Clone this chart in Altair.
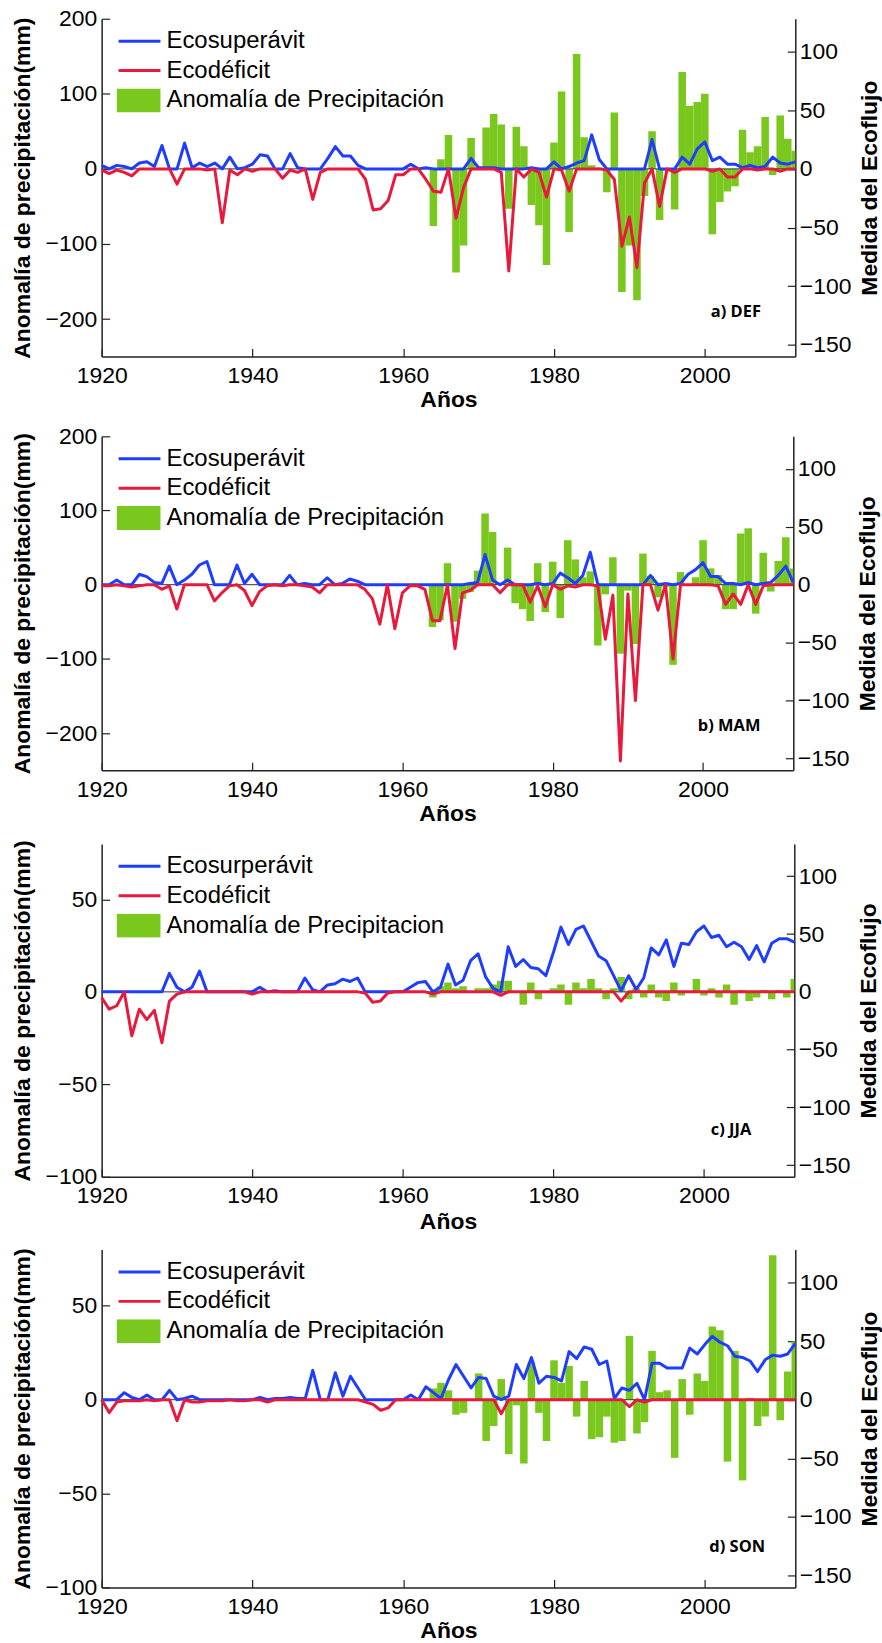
import altair as alt
import pandas as pd

YEARS = list(range(1920, 2013))
BAR_YEARS = list(range(1964, 2013))

X_DOMAIN = [1920, 2012]
X_TICKS = [1920, 1940, 1960, 1980, 2000]
RIGHT_DOMAIN = [-160, 128]
RIGHT_TICKS = [-150, -100, -50, 0, 50, 100]
LEFT_DOMAIN_AB = [-250, 200]
LEFT_TICKS_AB = [-200, -100, 0, 100, 200]
LEFT_DOMAIN_CD = [-100, 80]
LEFT_TICKS_CD = [-100, -50, 0, 50]

LABELS_STD = ["Ecosuperávit", "Ecodéficit", "Anomalía de Precipitación"]
LABELS_C = ["Ecosurperávit", "Ecodéficit", "Anomalía de Precipitacion"]
TAGS = ["a) DEF", "b) MAM", "c) JJA", "d) SON"]
TAG_X = [2000.8, 1999.3, 2000.9, 2000.6]
TAG_Y = [-191, -190, -74.6, -78.7]

# ---------------- a) DEF ----------------
A_SUP = [3, 0, 3, 2, 0, 5, 6, 2, 20, 0,
         0, 22, 1, 5, 2, 5, 0, 10, 0, 1,
         4, 12, 11, 0, 0, 13, 1, 0, 0, 0,
         9, 19, 11, 11, 3, 0, 0, 0, 0, 0,
         0, 4, 0, 1, 0, 0,
         0, 0, 0, 9, 1, 1, 1, 0, 0, 0,
         0, 1, 0, 0, 6, 0, 2, 5, 7, 29,
         8, 0, 0, 0, 0, 0, 0, 25, 0, 0,
         0, 10, 4, 17, 23, 7, 10, 4, 4, 1,
         3, 1, 2, 10, 5, 4, 6]
A_DEF = [-1, -4, -1, -3, -6, 0, 0, 0, 0, 0,
         -13, 0, 0, 0, -1, 0, -46, -1, -5, 0,
         -2, 0, 0, 0, -8, -1, -3, 0, -26, -3,
         0, 0, 0, 0, 0, -9, -35, -34, -27, -5,
         -5, 0, 0, -9, -19, -20,
         0, -42, -16, 0, 0, 0, 0, -3, -87, 0,
         -7, 0, -3, -24, 0, -1, -19, 0, 0, 0,
         0, -1, -9, -66, -41, -84, -12, 0, -32, 0,
         -3, 0, 0, 0, 0, -2, 0, -7, -7, 0,
         0, -1, 0, 0, -2, 0, 0]
A_BAR = [-76, 13, 45, -138, -102, 41, 3, 55, 73, 59,
         -53, 56, 30, -48, -75, -128, 35, 103, -84, 153,
         42, 5, 2, -31, 75, -164, -102, -175, -36, 50,
         -68, -2, -54, 129, 84, 89, 100, -87, -44, -30,
         -23, 52, 22, 30, 69, -8, 71, 40, 24]

# ---------------- b) MAM ----------------
B_SUP = [0, 0, 4, 0, 0, 9, 7, 2, 1, 16,
         0, 4, 9, 17, 20, 0, 0, 0, 17, 1,
         9, 0, 0, 0, 0, 8, 0, 1, 0, 0,
         6, 0, 1, 5, 3, 0, 0, 0, 0, 0,
         0, 0, 0, 0, 0, 0,
         0, 0, 0, 1, 2, 26, 4, 0, 4, 0,
         0, 0, 1, 0, 1, 10, 6, 1, 8, 28,
         0, 0, 0, 0, 0, 0, 0, 8, 0, 1,
         0, 1, 9, 13, 19, 7, 7, 1, 1, 0,
         2, 0, 1, 2, 8, 16, 2]
B_DEF = [-1, -1, 0, -1, -2, -1, 0, 0, -4, -1,
         -21, 0, 0, 0, 0, -14, -7, -1, 0, -5,
         -18, -6, -1, 0, -1, 0, 0, -1, -2, -7,
         0, 0, 0, 0, 0, -4, -12, -34, 0, -38,
         -7, -1, -1, -4, -31, -31,
         0, -55, -7, -5, 0, 0, 0, -7, 0, 0,
         0, -15, -1, -19, 0, -4, -1, -2, 0, 0,
         -1, -47, -9, -152, -8, -100, 0, 0, -22, 0,
         -64, 0, 0, 0, 0, 0, -1, -17, -8, -17,
         0, -17, -1, 0, 0, 0, 0]
B_BAR = [-57, -48, 29, -50, -19, -10, 19, 96, 71, 0,
         50, -25, -33, -49, 29, -37, 31, -45, 60, 34,
         10, 18, -82, -13, 37, -93, -8, -80, 42, 12,
         -17, -3, -108, 17, 0, 10, 60, 22, 13, -33,
         -33, 69, 76, -39, 43, -9, 32, 64, 22]

# ---------------- c) JJA ----------------
C_SUP = [0, 0, 0, 0, 0, 0, 0, 0, 0, 16,
         4, 0, 4, 18, 0, 0, 0, 0, 0, 0,
         0, 4, 0, 1, 0, 0, 0, 12, 2, 0,
         6, 7, 11, 9, 12, 0, 0, 0, 0, 0,
         0, 4, 8, 9, 0, 4,
         24, 6, 10, 27, 33, 13, 3, 0, 39, 22,
         28, 21, 20, 14, 34, 56, 41, 54, 57, 44,
         31, 27, 14, 1, 14, 2, 12, 38, 32, 45,
         22, 42, 41, 52, 57, 47, 49, 39, 43, 39,
         28, 40, 26, 42, 46, 46, 43]
C_DEF = [-5, -15, -12, 0, -38, -15, -24, -16, -44, -8,
         -2, 0, 0, 0, 0, 0, 0, 0, 0, 0,
         -2, 0, 0, 0, 0, 0, 0, 0, 0, 0,
         0, 0, 0, 0, 0, -1, -9, -8, -1, 0,
         0, 0, 0, 0, -2, 0,
         0, 0, 0, 0, 0, 0, 0, -3, 0, 0,
         0, 0, 0, 0, 0, 0, 0, 0, 0, 0,
         0, 0, 0, -8, 0, 0, 0, 0, 0, 0,
         0, 0, 0, 0, 0, 0, 0, 0, 0, 0,
         0, 0, 0, 0, 0, 0, 0]
C_BAR = [-3, 3, 5, 2, 3, 0, 2, 2, 4, 6,
         6, 0, -7, 5, -4, 0, 2, 4, -7, 5,
         2, 7, 2, -4, 2, 8, -4, 2, -3, 4,
         -3, -5, 5, -2, 0, 7, -2, 2, -3, 4,
         -7, 1, -5, -3, 1, -4, 1, -3, 7]

# ---------------- d) SON ----------------
D_SUP = [0, 0, 0, 6, 2, 0, 4, 0, 0, 8,
         0, 1, 3, 0, 0, 0, 0, 0, 0, 0,
         0, 2, 0, 1, 1, 2, 1, 1, 25, 0,
         0, 23, 3, 20, 10, 0, 0, 0, 0, 0,
         0, 4, 0, 11, 6, 1,
         17, 30, 20, 10, 19, 18, 3, 0, 3, 30,
         18, 36, 14, 20, 19, 16, 41, 35, 45, 43,
         30, 33, 1, 10, 8, 14, 0, 31, 31, 27,
         27, 27, 44, 39, 47, 54, 49, 46, 37, 36,
         33, 24, 34, 38, 37, 39, 48]
D_DEF = [0, -11, -2, -1, -1, -1, 0, -1, 0, 0,
         -18, 0, -2, -2, -1, -1, -1, 0, -1, -1,
         0, 0, -2, 0, 0, 0, 0, 0, 0, 0,
         0, 0, 0, 0, 0, -2, -4, -9, -7, 0,
         0, 0, 0, 0, 0, 0,
         0, 0, 0, 0, 0, 0, 0, -12, 0, 0,
         0, 0, 0, 0, 0, 0, 0, 0, 0, 0,
         0, 0, 0, 0, -6, 0, -2, 0, 0, 0,
         0, 0, 0, 0, 0, 0, 0, 0, 0, 0,
         0, 0, 0, 0, 0, 0, 0]
D_BAR = [6, 9, 5, -8, -7, 0, 14, -22, -14, 11,
         -29, -3, -34, 20, -7, -22, 21, 9, 18, -9,
         10, -21, -20, -9, -23, -22, 34, -18, -12, 26,
         4, 5, -31, 11, -8, 14, 10, 39, 37, -33,
         26, -43, 1, -14, -9, 77, -11, 15, 31]

BLUE = "#1f3dff"
RED = "#e8193c"
GREEN = "#7ac81e"
AXIS_DARK = "#222222"
FONT = "Liberation Sans"
LEGEND_SIZE = 24


def panel(sup, dfc, bar, labels, left_dom, left_ticks, tag, tag_x, tag_y,
          w, h, x_title_pad):
    sup_lbl, def_lbl, bar_lbl = labels
    xs = alt.Scale(domain=X_DOMAIN, nice=False, zero=False)
    ls = alt.Scale(domain=left_dom, nice=False, zero=False)
    rs = alt.Scale(domain=RIGHT_DOMAIN, nice=False, zero=False)
    stroke_scale = alt.Scale(domain=[sup_lbl, def_lbl], range=[BLUE, RED])

    stroke_legend = alt.Legend(
        title=None, orient="none", legendX=15.5, legendY=10.5,
        symbolType="stroke", symbolSize=1764, symbolStrokeWidth=3,
        labelFont=FONT, labelFontSize=LEGEND_SIZE, labelColor="black",
        labelOffset=4.5, labelLimit=600, clipHeight=24, rowPadding=5.5,
        padding=0,
    )
    fill_legend = alt.Legend(
        title=None, orient="none", legendX=15, legendY=70,
        symbolType="M-1,-0.55H1V0.55H-1Z", symbolSize=1936,
        symbolStrokeWidth=0, symbolOpacity=1,
        labelFont=FONT, labelFontSize=LEGEND_SIZE, labelColor="black",
        labelOffset=6, labelLimit=600, clipHeight=24, padding=0,
    )

    bars_df = pd.DataFrame({"year": BAR_YEARS, "v": bar,
                            "serie": [bar_lbl] * len(bar)})
    sup_df = pd.DataFrame({"year": YEARS, "v": sup,
                           "serie": [sup_lbl] * len(sup)})
    def_df = pd.DataFrame({"year": YEARS, "v": dfc,
                           "serie": [def_lbl] * len(dfc)})
    zero_df = pd.DataFrame({"v": [0]})
    tag_df = pd.DataFrame({"year": [tag_x], "v": [tag_y], "t": [tag]})

    bars = alt.Chart(bars_df).transform_calculate(
        x0="datum.year - 0.5", x1="datum.year + 0.5"
    ).mark_bar(clip=True).encode(
        x=alt.X("x0:Q", scale=xs, axis=alt.Axis(
            orient="bottom", title="Años", values=X_TICKS, format="d",
            ticks=False, labelPadding=8, titlePadding=x_title_pad,
            labelFlush=False, labelOverlap=False)),
        x2="x1:Q",
        y=alt.Y("v:Q", scale=ls, axis=alt.Axis(
            orient="left", title="Anomalía de precipitación(mm)",
            values=left_ticks, ticks=False, labelPadding=5,
            titlePadding=11, labelOverlap=False)),
        y2=alt.datum(0),
        fill=alt.Fill("serie:N", scale=alt.Scale(domain=[bar_lbl], range=[GREEN]),
                      legend=fill_legend),
    )

    zero = alt.Chart(zero_df).mark_rule(color="#333333", strokeWidth=1).encode(
        y=alt.Y("v:Q", scale=ls, axis=alt.Axis(
            orient="left", offset=-8, values=left_ticks, labels=False,
            domain=False, tickSize=8, title=None)),
    )

    blue = alt.Chart(sup_df).mark_line(strokeWidth=3, strokeJoin="round").encode(
        x=alt.X("year:Q", scale=xs, axis=None),
        y=alt.Y("v:Q", scale=rs, axis=alt.Axis(
            orient="right", title="Medida del Ecoflujo", values=RIGHT_TICKS,
            ticks=False, labelPadding=4, titlePadding=8, titleAngle=270,
            titleBaseline="top", labelOverlap=False)),
        stroke=alt.Stroke("serie:N", scale=stroke_scale, legend=stroke_legend),
    )

    red = alt.Chart(def_df).mark_line(strokeWidth=3, strokeJoin="round").encode(
        x=alt.X("year:Q", scale=xs, axis=None),
        y=alt.Y("v:Q", scale=rs, axis=alt.Axis(
            orient="right", offset=-8, values=RIGHT_TICKS, labels=False,
            domain=False, tickSize=8, title=None)),
        stroke=alt.Stroke("serie:N", scale=stroke_scale, legend=stroke_legend),
    )

    text = alt.Chart(tag_df).mark_text(
        align="left", baseline="middle", font="Open Sans",
        fontWeight="bold", fontSize=16.5, color="black"
    ).encode(
        x=alt.X("year:Q", scale=xs, axis=alt.Axis(
            orient="bottom", offset=-8, values=X_TICKS, labels=False,
            domain=False, tickSize=8, title=None)),
        y=alt.Y("v:Q", scale=ls, axis=None),
        text="t:N",
    )

    return alt.layer(bars, zero, blue, red, text).resolve_scale(
        x="independent", y="independent"
    ).properties(width=w, height=h)


pa = panel(A_SUP, A_DEF, A_BAR, LABELS_STD, LEFT_DOMAIN_AB, LEFT_TICKS_AB,
           TAGS[0], TAG_X[0], TAG_Y[0], 696, 339, 1)
pb = panel(B_SUP, B_DEF, B_BAR, LABELS_STD, LEFT_DOMAIN_AB, LEFT_TICKS_AB,
           TAGS[1], TAG_X[1], TAG_Y[1], 694, 335, 1)
pc = panel(C_SUP, C_DEF, C_BAR, LABELS_C, LEFT_DOMAIN_CD, LEFT_TICKS_CD,
           TAGS[2], TAG_X[2], TAG_Y[2], 695, 334, 2.5)
pd_ = panel(D_SUP, D_DEF, D_BAR, LABELS_STD, LEFT_DOMAIN_CD, LEFT_TICKS_CD,
            TAGS[3], TAG_X[3], TAG_Y[3], 696, 339, 1)

chart = alt.vconcat(pa, pb, pc, pd_, spacing=14).resolve_scale(
    stroke="independent", fill="independent"
).resolve_legend(
    stroke="independent", fill="independent"
).properties(
    padding={"left": 11, "top": 5, "right": 0, "bottom": 0},
    background="white",
).configure_view(
    stroke=None
).configure_axis(
    domainColor=AXIS_DARK, domainWidth=1.5, tickColor=AXIS_DARK, tickWidth=1.2,
    labelFont=FONT, labelFontSize=23, labelColor="black",
    titleFont=FONT, titleFontSize=23, titleFontWeight="bold", titleColor="black",
    grid=False,
)

chart.save("out.html", embed_options={"renderer": "svg", "actions": False})
